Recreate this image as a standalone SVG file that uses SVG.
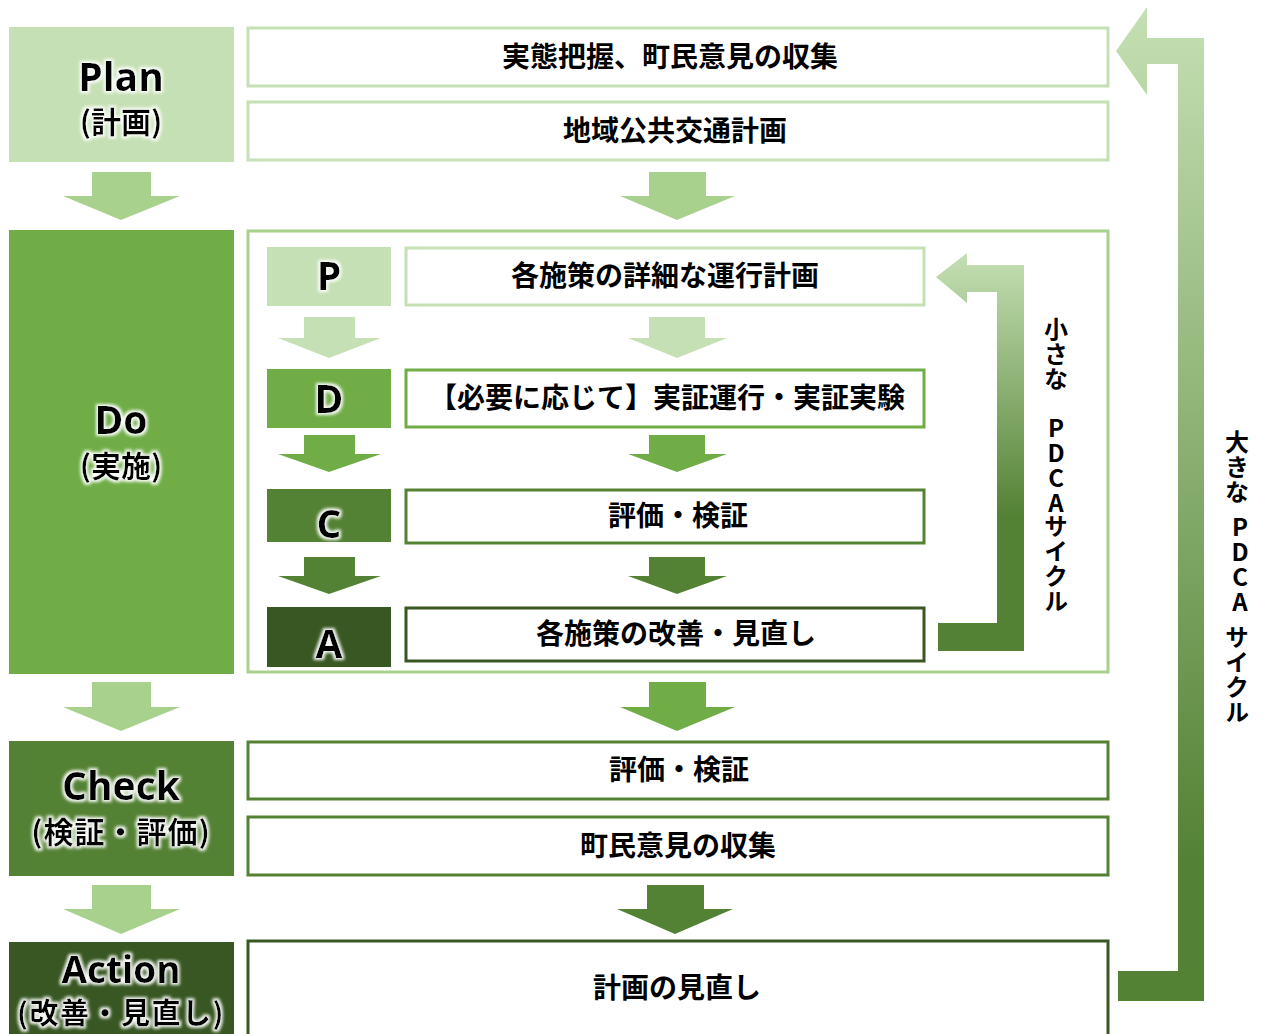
<svg xmlns="http://www.w3.org/2000/svg" width="1267" height="1034" viewBox="0 0 1267 1034">
<style>
.jp{font-family:"Noto Sans CJK JP","Noto Sans",sans-serif;font-weight:bold;fill:#000;text-anchor:middle}
.t{font-size:28px}
.en{font-family:"Open Sans","Noto Sans",sans-serif;font-weight:bold;fill:#000;text-anchor:middle}
.big{font-size:39px}
.sub{font-family:"Noto Sans CJK JP","Noto Sans",sans-serif;font-size:30px}
.vt{font-family:"Noto Sans CJK JP",sans-serif;font-weight:bold;font-size:24px;fill:#000;writing-mode:vertical-rl;text-orientation:upright;letter-spacing:1px}
.box{fill:#fff;stroke-width:3}
.glow{filter:url(#glow)}
</style>
<defs>
<filter id="glow" x="-20%" y="-30%" width="140%" height="160%">
<feMorphology in="SourceAlpha" operator="dilate" radius="1.5" result="d"/>
<feGaussianBlur in="d" stdDeviation="1.5" result="b"/>
<feFlood flood-color="#fff" flood-opacity="0.95"/>
<feComposite in2="b" operator="in" result="g"/>
<feMerge><feMergeNode in="g"/><feMergeNode in="SourceGraphic"/></feMerge>
</filter>
<linearGradient id="gSmall" gradientUnits="userSpaceOnUse" x1="0" y1="253" x2="0" y2="515">
<stop offset="0" stop-color="#c5e0b4"/><stop offset="1" stop-color="#548235"/>
</linearGradient>
<linearGradient id="gBig" gradientUnits="userSpaceOnUse" x1="0" y1="7" x2="0" y2="860">
<stop offset="0" stop-color="#c5e0b4"/><stop offset="1" stop-color="#548235"/>
</linearGradient>
</defs>
<rect width="1267" height="1034" fill="#fff"/>

<!-- left phase nodes -->
<g id="plan">
<rect x="9" y="27" width="225" height="135" fill="#c5e0b4"/>
<text class="en big glow" x="121" y="91">Plan</text>
<text class="jp sub glow" x="121" y="133">(計画)</text>
</g>
<g id="do">
<rect x="9" y="230" width="225" height="444" fill="#70ad47"/>
<text class="en big glow" x="121" y="434">Do</text>
<text class="jp sub glow" x="121" y="477">(実施)</text>
</g>
<g id="check">
<rect x="9" y="741" width="225" height="135" fill="#548235"/>
<text class="en big glow" x="121" y="800">Check</text>
<text class="jp sub glow" x="121" y="843" letter-spacing="1">(検証・評価)</text>
</g>
<g id="action">
<rect x="9" y="942" width="225" height="92" fill="#385723"/>
<text class="en glow" x="121" y="983" font-size="37">Action</text>
<text class="jp glow" x="121" y="1024" font-size="29" letter-spacing="1.5">(改善・見直し)</text>
</g>

<!-- right content nodes -->
<g id="survey">
<rect class="box" x="248" y="28" width="860" height="58" stroke="#c5e0b4"/>
<text class="jp t" x="670" y="67">実態把握、町民意見の収集</text>
</g>
<g id="plan-doc">
<rect class="box" x="248" y="102" width="860" height="58" stroke="#c5e0b4"/>
<text class="jp t" x="675" y="141">地域公共交通計画</text>
</g>
<g id="do-container">
<rect x="248" y="231" width="860" height="441" fill="none" stroke="#a9d18e" stroke-width="3"/>
</g>
<g id="p-small">
<rect x="267" y="247" width="124" height="59" fill="#c5e0b4"/>
<text class="en big glow" x="329" y="290">P</text>
<rect class="box" x="406" y="248" width="518" height="57" stroke="#c5e0b4"/>
<text class="jp t" x="665" y="286">各施策の詳細な運行計画</text>
</g>
<g id="d-small">
<rect x="267" y="369" width="124" height="59" fill="#70ad47"/>
<text class="en big glow" x="329" y="413">D</text>
<rect class="box" x="406" y="370" width="518" height="57" stroke="#70ad47"/>
<text class="jp t" x="667" y="408">【必要に応じて】実証運行・実証実験</text>
</g>
<g id="c-small">
<rect x="267" y="489" width="124" height="53" fill="#548235"/>
<text class="en big glow" x="329" y="538">C</text>
<rect class="box" x="406" y="490" width="518" height="53" stroke="#548235"/>
<text class="jp t" x="678" y="526">評価・検証</text>
</g>
<g id="a-small">
<rect x="267" y="607" width="124" height="60" fill="#385723"/>
<text class="en big glow" x="329" y="658">A</text>
<rect class="box" x="406" y="608" width="518" height="53" stroke="#385723"/>
<text class="jp t" x="676" y="644">各施策の改善・見直し</text>
</g>
<g id="eval">
<rect class="box" x="248" y="742" width="860" height="57" stroke="#548235"/>
<text class="jp t" x="679" y="780">評価・検証</text>
</g>
<g id="opinion">
<rect class="box" x="248" y="817" width="860" height="58" stroke="#548235"/>
<text class="jp t" x="678" y="856">町民意見の収集</text>
</g>
<g id="review">
<rect class="box" x="248" y="941" width="860" height="100" stroke="#385723"/>
<text class="jp t" x="677" y="998">計画の見直し</text>
</g>

<!-- connectors -->
<g id="connectors">
<polygon points="92,172 151,172 151,196 180,196 121,220 63,196 92,196" fill="#a9d18e"/>
<polygon points="92,682 151,682 151,707 180,707 121,731 63,707 92,707" fill="#a9d18e"/>
<polygon points="92,885 151,885 151,909 180,909 121,934 63,909 92,909" fill="#a9d18e"/>
<polygon points="649,172 706,172 706,196 735,196 677,220 620,196 649,196" fill="#a9d18e"/>
<polygon points="649,682 706,682 706,707 735,707 677,731 620,707 649,707" fill="#70ad47"/>
<polygon points="647,885 704,885 704,909 733,909 675,934 617,909 647,909" fill="#548235"/>
<polygon points="304,317 355,317 355,338 381,338 329,358 278,338 304,338" fill="#c5e0b4"/>
<polygon points="304,435 355,435 355,454 381,454 329,472 278,454 304,454" fill="#70ad47"/>
<polygon points="304,557 355,557 355,576 381,576 329,594 278,576 304,576" fill="#548235"/>
<polygon points="649,317 705,317 705,338 727,338 677,358 628,338 649,338" fill="#c5e0b4"/>
<polygon points="649,435 705,435 705,454 727,454 677,472 628,454 649,454" fill="#70ad47"/>
<polygon points="649,557 705,557 705,576 727,576 677,594 628,576 649,576" fill="#548235"/>
<polygon points="936,277 967,253 967,265 1024,265 1024,651 938,651 938,623 997,623 997,292 967,292 967,303" fill="url(#gSmall)"/>
<polygon points="1116,51 1147,7 1147,38 1204,38 1204,1001 1118,1001 1118,971 1178,971 1178,64 1147,64 1147,95" fill="url(#gBig)"/>
</g>

<!-- cycle labels -->
<g id="small-cycle-label">
<text class="vt" x="1056" y="317">小さな</text>
<text class="vt" x="1056" y="416" letter-spacing="0">PDCA</text>
<text class="vt" x="1056" y="514" letter-spacing="1.5">サイクル</text>
</g>
<g id="big-cycle-label">
<text class="vt" x="1237" y="430">大きな</text>
<text class="vt" x="1240" y="515">PDCA</text>
<text class="vt" x="1237" y="625">サイクル</text>
</g>
</svg>
